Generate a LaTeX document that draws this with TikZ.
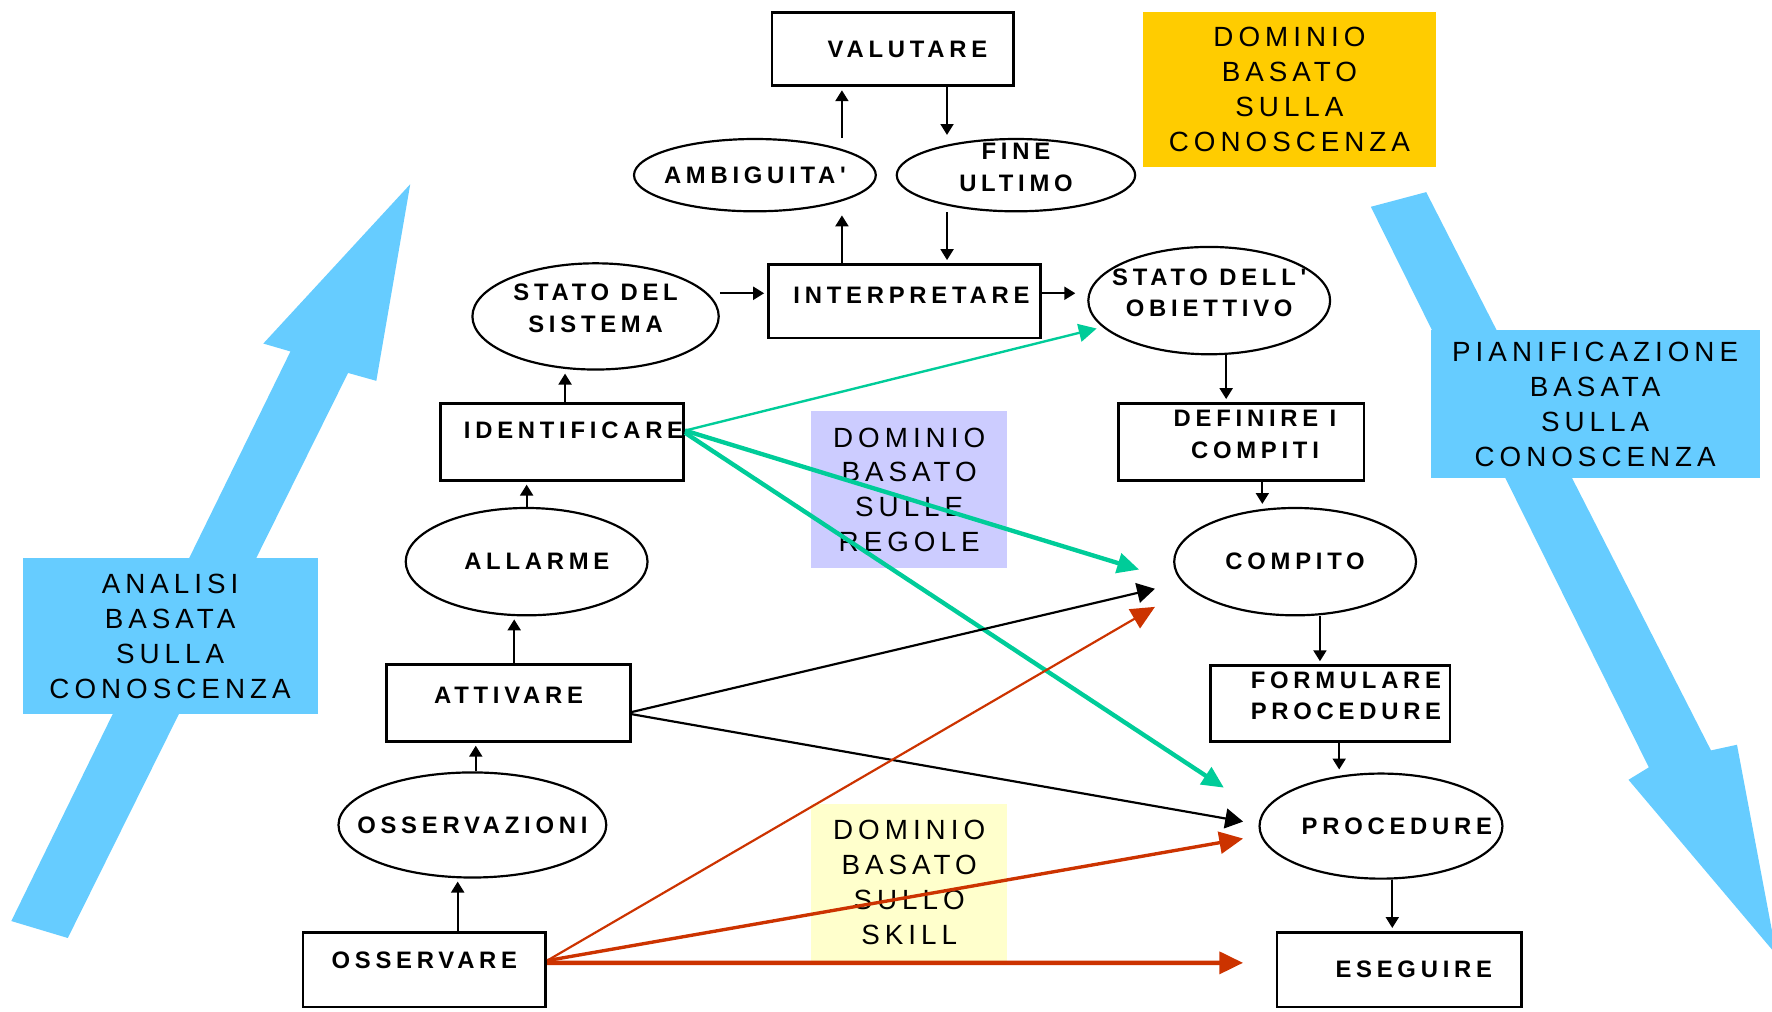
\documentclass[tikz,border=0pt]{standalone}
\usepackage{fontspec}
\setmainfont{Liberation Sans}
\newfontfamily\nodefont{Liberation Sans}[LetterSpace=20]
\newfontfamily\areafont{Liberation Sans}[LetterSpace=18]
\usetikzlibrary{arrows.meta,shapes.geometric}

\definecolor{areablue}{HTML}{66CCFF}
\definecolor{areagold}{HTML}{FFCC00}
\definecolor{arealilac}{HTML}{CCCCFF}
\definecolor{areacream}{HTML}{FFFFCC}
\definecolor{rulegreen}{HTML}{00CC99}
\definecolor{skillred}{HTML}{CC3300}

% zero-width labels, so the shapes keep their own size
\newcommand{\oneline}[1]{\makebox[0pt]{#1}}
\newcommand{\twolines}[2]{\smash{\makebox[0pt]{\begin{tabular}{@{}c@{}}#1\\#2\end{tabular}}}}

\tikzset{
  box/.style={draw, line width=1.4pt, fill=white, inner sep=0pt,
    font=\nodefont\bfseries\fontsize{12}{16}\selectfont},
  bubble/.style={draw, ellipse, line width=1.1pt, fill=white, inner sep=0pt,
    minimum width=4.28cm, minimum height=1.9cm,
    font=\nodefont\bfseries\fontsize{12}{16}\selectfont},
  area/.style={inner sep=0pt, align=center,
    font=\areafont\fontsize{14}{17.6}\selectfont},
  flow/.style={->, line width=1.1pt, shorten >=1.5pt},
  actflow/.style={line width=1.1pt, -{Triangle[width=10pt,length=9pt]}},
  ruleflow/.style={rulegreen, line width=2.2pt, -{Triangle[width=10pt,length=11pt]}},
  skillflow/.style={skillred, -{Triangle[width=11pt,length=12pt]}}
}

\begin{document}
\begin{tikzpicture}[x=0.02cm, y=-0.02cm, >={Triangle[width=6.5pt,length=5.5pt]}]
  \useasboundingbox (0,0) rectangle (1568,895);

  % Big arrows behind everything
  \fill[areablue] (10,815) -- (257,311) -- (233,304) -- (363,163) -- (333,337)
    -- (308,330) -- (60,830) -- cycle;
  \fill[areablue] (1213,183) -- (1262,170) -- (1514,664) -- (1537,659)
    -- (1572,845) -- (1441,690) -- (1459,679) -- cycle;

  % Coloured domain labels
  \node[area, fill=areagold, minimum width=5.2cm, minimum height=2.74cm]
    (kbdomain) at (1141,79.5) {DOMINIO\\BASATO\\SULLA\\CONOSCENZA};
  \node[area, fill=areablue, minimum width=5.22cm, minimum height=2.76cm]
    (kbanalysis) at (150.5,563) {ANALISI\\BASATA\\SULLA\\CONOSCENZA};
  \node[area, fill=areablue, minimum width=5.82cm, minimum height=2.62cm]
    (kbplanning) at (1411.5,357.5) {PIANIFICAZIONE\\BASATA\\SULLA\\CONOSCENZA};
  \node[area, fill=arealilac, minimum width=3.46cm, minimum height=2.78cm]
    (rbdomain) at (804.5,433.5) {DOMINIO\\BASATO\\SULLE\\REGOLE};
  \node[area, fill=areacream, minimum width=3.46cm, minimum height=2.78cm]
    (sbdomain) at (804.5,780.5) {DOMINIO\\BASATO\\SULLO\\SKILL};

  % Left leg (analysis)
  \node[box, minimum width=4.3cm, minimum height=1.32cm, text depth=0.32cm]
    (osservare) at (375.5,858) {\oneline{OSSERVARE}};
  \node[bubble, minimum width=4.74cm, minimum height=1.86cm]
    (osservazioni) at (418,730) {\oneline{OSSERVAZIONI}};
  \node[box, minimum width=4.32cm, minimum height=1.36cm, text depth=0.28cm]
    (attivare) at (450,622) {\oneline{ATTIVARE}};
  \node[bubble] (allarme) at (466,497) {\oneline{\hspace*{0.36cm}ALLARME}};
  \node[box, minimum width=4.3cm, minimum height=1.36cm, text depth=0.4cm]
    (identificare) at (497.5,391) {\oneline{\hspace*{0.4cm}IDENTIFICARE}};
  \node[bubble, minimum width=4.36cm, minimum height=1.88cm]
    (statosis) at (527,280) {\twolines{STATO DEL}{SISTEMA}};

  % Top (evaluation)
  \node[box, minimum width=4.82cm, minimum height=1.3cm, text depth=0.22cm]
    (interpretare) at (800.5,266.5) {\oneline{\hspace*{0.24cm}INTERPRETARE}};
  \node[bubble, minimum height=1.28cm]
    (ambiguita) at (668,155) {\oneline{AMBIGUITA'}};
  \node[bubble, minimum width=4.22cm, minimum height=1.28cm]
    (fine) at (899,155) {\twolines{FINE}{ULTIMO}};
  \node[box, minimum width=4.28cm, minimum height=1.3cm]
    (valutare) at (790,43.5) {\oneline{\hspace*{0.52cm}VALUTARE}};

  % Right leg (planning)
  \node[bubble] (statoobj) at (1070,266) {\twolines{STATO DELL'}{OBIETTIVO}};
  \node[box, minimum width=4.34cm, minimum height=1.36cm]
    (definire) at (1098.5,391) {\hspace*{0.48cm}\twolines{DEFINIRE I}{COMPITI}};
  \node[bubble] (compito) at (1146,497) {\oneline{COMPITO}};
  \node[box, minimum width=4.24cm, minimum height=1.34cm]
    (formulare) at (1177,622.5) {\hspace*{0.56cm}\twolines{FORMULARE}{PROCEDURE}};
  \node[bubble, minimum width=4.3cm, minimum height=1.86cm]
    (procedure) at (1222,731) {\oneline{\hspace*{0.56cm}PROCEDURE}};
  \node[box, minimum width=4.32cm, minimum height=1.32cm]
    (eseguire) at (1238,858) {\oneline{\hspace*{0.52cm}ESEGUIRE}};

  % Steps of the ladder
  \foreach \src/\dst/\dx in {osservare/osservazioni/0.59cm, osservazioni/attivare/0.06cm,
      attivare/allarme/0.1cm, allarme/identificare/0cm, identificare/statosis/0.05cm,
      interpretare/ambiguita/-1.11cm, ambiguita/valutare/1.54cm}
    \draw[flow] ([xshift=\dx]\src.north) -- ([xshift=\dx]\src.north |- \dst.south);
  \foreach \src/\dst/\dx in {valutare/fine/0.96cm, fine/interpretare/-1.22cm,
      statoobj/definire/0.3cm, definire/compito/0.37cm, compito/formulare/0.44cm,
      formulare/procedure/0.16cm, procedure/eseguire/0.2cm}
    \draw[flow] ([xshift=\dx]\src.south) -- ([xshift=\dx]\src.south |- \dst.north);
  \draw[flow] ([yshift=0.14cm]statosis.east |- interpretare.west) -- ([yshift=0.14cm]interpretare.west);
  \draw[flow, shorten >=6pt] ([yshift=0.14cm]interpretare.east)
    -- ([yshift=0.14cm]interpretare.east -| statoobj.west);

  % Shortcuts
  \coordinate (tocompitoR) at (1008,504);
  \coordinate (tocompitoA) at (1022,521);
  \coordinate (tocompitoS) at (1022,537);
  \coordinate (toprocR) at (1083,697);
  \coordinate (toprocA) at (1100,727);
  \coordinate (toprocS) at (1100,742);
  \coordinate (toesegS) at (1100,852);

  \draw[rulegreen, line width=1.2pt, -{Triangle[width=9pt,length=9pt]}, shorten >=3pt]
    ([yshift=0.2cm]identificare.east) -- (statoobj);
  \draw[ruleflow] ([yshift=0.2cm]identificare.east) -- (tocompitoR);
  \draw[ruleflow] ([yshift=0.16cm]identificare.east) -- (toprocR);

  \draw[actflow] ([yshift=-0.16cm]attivare.east) -- (tocompitoA);
  \draw[actflow] ([yshift=-0.2cm]attivare.east) -- (toprocA);

  \draw[skillflow, line width=1.1pt] ([yshift=0.16cm]osservare.east) -- (tocompitoS);
  \draw[skillflow, line width=1.7pt] ([yshift=0.16cm]osservare.east) -- (toprocS);
  \draw[skillflow, line width=2.2pt] ([yshift=0.12cm]osservare.east) -- (toesegS);
\end{tikzpicture}
\end{document}
